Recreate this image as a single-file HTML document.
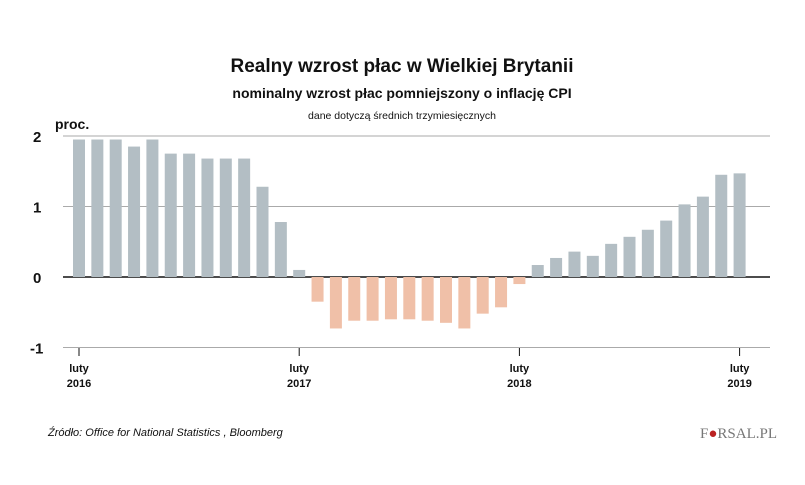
<!DOCTYPE html>
<html><head><meta charset="utf-8"><style>
body{margin:0;background:#fff;width:805px;height:480px;overflow:hidden;font-family:"Liberation Sans",sans-serif}
</style></head><body>
<svg width="805" height="480" xmlns="http://www.w3.org/2000/svg" font-family="Liberation Sans, sans-serif">
<text x="402" y="72" text-anchor="middle" font-size="19" font-weight="bold" fill="#111">Realny wzrost płac w Wielkiej Brytanii</text>
<text x="402" y="98" text-anchor="middle" font-size="14" font-weight="bold" fill="#111">nominalny wzrost płac pomniejszony o inflację CPI</text>
<text x="402" y="119" text-anchor="middle" font-size="10.5" fill="#111">dane dotyczą średnich trzymiesięcznych</text>
<text x="55" y="129" font-size="14" font-weight="bold" fill="#111">proc.</text>
<g id="grid"></g><g id="bars"></g><g id="xaxis"></g>
<text x="48" y="436" font-size="11" font-style="italic" fill="#111">Źródło:  Office for National Statistics , Bloomberg</text>
<text x="700" y="438" font-size="15" fill="#777" font-family="Liberation Serif, serif">F<tspan fill="#b22">●</tspan>RSAL.PL</text>
</svg>
<script>
const values=[1.95,1.95,1.95,1.85,1.95,1.75,1.75,1.68,1.68,1.68,1.28,0.78,0.1,-0.35,-0.73,-0.62,-0.62,-0.6,-0.6,-0.62,-0.65,-0.73,-0.52,-0.43,-0.1,0.17,0.27,0.36,0.3,0.47,0.57,0.67,0.8,1.03,1.14,1.45,1.47];
const yTicks=[2,1,0,-1];
const xTickIdx=[0,12,24,36];
const xTickLabels=[["luty","2016"],["luty","2017"],["luty","2018"],["luty","2019"]];
const NS="http://www.w3.org/2000/svg";
const y=v=>277-v*70.5;
const x=i=>79+i*18.35;
const grid=document.getElementById('grid'),bars=document.getElementById('bars'),xa=document.getElementById('xaxis');
function mk(t,a,p){const e=document.createElementNS(NS,t);for(const k in a)e.setAttribute(k,a[k]);p.appendChild(e);return e;}
yTicks.forEach(t=>{
 const l=mk('line',{x1:63,x2:770,y1:y(t),y2:y(t),stroke:t===0?'#111':'#aaa','stroke-width':t===0?1.5:1},grid);
 
 
 const tx=mk('text',{x:t<0?30:33,y:y(t)+6,'font-size':15,'font-weight':'bold',fill:'#111'},grid);tx.textContent=String(t);
 
 
});
values.forEach((v,i)=>{
 const r=mk('rect',{x:x(i)-6,width:12,y:Math.min(y(v),y(0)),height:Math.abs(y(v)-y(0)),fill:v>=0?'#b3bec4':'#f0c0a8'},bars);
 
 
});
xTickIdx.forEach((idx,k)=>{
 const l=mk('line',{x1:x(idx),x2:x(idx),y1:348,y2:356,stroke:'#111'},xa);
 
 
 xTickLabels[k].forEach((s,j)=>{const t=mk('text',{x:x(idx),y:372+j*15,'text-anchor':'middle','font-size':11,'font-weight':'bold',fill:'#111'},xa);t.textContent=s;
 
 });
});
</script>
</body></html>
